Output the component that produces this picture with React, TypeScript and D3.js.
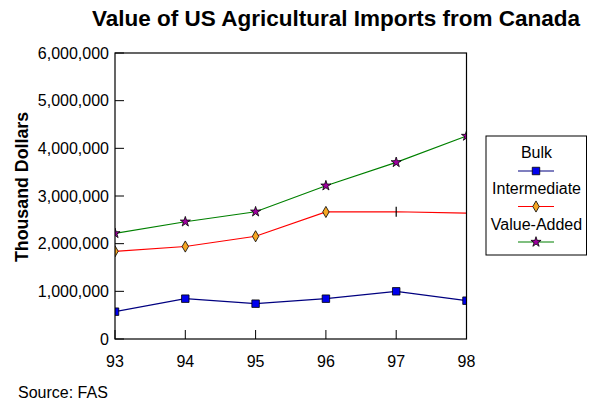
import React from "react";
import * as d3 from "d3";

const years = ["93", "94", "95", "96", "97", "98"];
const bulk = [573000, 846000, 741000, 846000, 1000000, 804000];
const intermediate = [1840000, 1940000, 2155000, 2665000, 2670000, 2640000];
const valueAdded = [2217000, 2460000, 2670000, 3216000, 3706000, 4259000];
const yTicks = [0, 1000000, 2000000, 3000000, 4000000, 5000000, 6000000];

const W = 590, H = 408;
const L = 115, R = 466.5, T = 53, B = 339;
const FONT = "'Liberation Sans', Arial, sans-serif";

export default function App() {
  const x = d3.scalePoint<string>().domain(years).range([L, R]);
  const y = d3.scaleLinear().domain([0, 6000000]).range([B, T]);
  const line = d3.line<number>().x((_, i) => x(years[i])!).y((d) => y(d));
  const fmt = d3.format(",");
  const sq = d3.symbol().type(d3.symbolSquare).size(56)()!;
  const dia = d3.symbol().type(d3.symbolDiamond).size(36)()!;
  const star = d3.symbol().type(d3.symbolStar).size(32)()!;

  const legendItems = [
    { name: "Bulk", ty: 158, ly: 171, color: "#000080", path: sq, fill: "#0000ee" },
    { name: "Intermediate", ty: 194, ly: 206.5, color: "#ff0000", path: dia, fill: "#f5a623" },
    { name: "Value-Added", ty: 230, ly: 242, color: "#008000", path: star, fill: "#a000a0" },
  ];

  return (
    <svg width={W} height={H} style={{ position: "absolute", left: 0, top: 0 }} fontFamily={FONT}>
      <rect width={W} height={H} fill="#fff" />
      <defs>
        <clipPath id="plotclip">
          <rect x={L} y={T} width={R - L} height={B - T} />
        </clipPath>
      </defs>
      <text x={336} y={26} textAnchor="middle" fontSize={22.5} fontWeight="bold">
        Value of US Agricultural Imports from Canada
      </text>
      <text transform={`translate(28,187) rotate(-90)`} textAnchor="middle" fontSize={17.8} fontWeight="bold">
        Thousand Dollars
      </text>
      {yTicks.map((t) => (
        <g key={t}>
          <text x={109} y={y(t)} dy="0.36em" textAnchor="end" fontSize={16}>
            {fmt(t)}
          </text>
          <line x1={L} x2={L + 9} y1={y(t)} y2={y(t)} stroke="#000" />
        </g>
      ))}
      {years.map((yr) => (
        <g key={yr}>
          <text x={x(yr)} y={367} textAnchor="middle" fontSize={16}>
            {yr}
          </text>
          <line x1={x(yr)} x2={x(yr)} y1={B} y2={B - 9} stroke="#000" />
        </g>
      ))}
      <g clipPath="url(#plotclip)">
        <path d={line(bulk)!} fill="none" stroke="#000080" strokeWidth={1.2} />
        <path d={line(intermediate)!} fill="none" stroke="#ff0000" strokeWidth={1.2} />
        <path d={line(valueAdded)!} fill="none" stroke="#008000" strokeWidth={1.2} />
        {bulk.map((v, i) => (
          <path key={i} d={sq} transform={`translate(${x(years[i])},${y(v)})`} fill="#0000ee" stroke="#000" strokeWidth={0.8} />
        ))}
        {intermediate.map((v, i) =>
          i < 4 ? (
            <path key={i} d={dia} transform={`translate(${x(years[i])},${y(v)})`} fill="#f5a623" stroke="#000" strokeWidth={0.8} />
          ) : i === 4 ? (
            <line key={i} x1={x(years[i])} x2={x(years[i])} y1={y(v) - 5} y2={y(v) + 5} stroke="#000" strokeWidth={1.2} />
          ) : null
        )}
        {valueAdded.map((v, i) => (
          <path key={i} d={star} transform={`translate(${x(years[i])},${y(v)})`} fill="#a000a0" stroke="#000" strokeWidth={0.8} />
        ))}
      </g>
      <rect x={L} y={T} width={R - L} height={B - T} fill="none" stroke="#000" strokeWidth={1.2} />
      <rect x={486} y={136} width={100.5} height={119} fill="#fff" stroke="#000" strokeWidth={1} />
      {legendItems.map((it) => (
        <g key={it.name}>
          <text x={536.5} y={it.ty} textAnchor="middle" fontSize={16}>
            {it.name}
          </text>
          <line x1={518} x2={554} y1={it.ly} y2={it.ly} stroke={it.color} strokeWidth={1.2} />
          <path d={it.path} transform={`translate(536,${it.ly})`} fill={it.fill} stroke="#000" strokeWidth={0.8} />
        </g>
      ))}
      <text x={18} y={398} fontSize={16}>
        Source: FAS
      </text>
    </svg>
  );
}
